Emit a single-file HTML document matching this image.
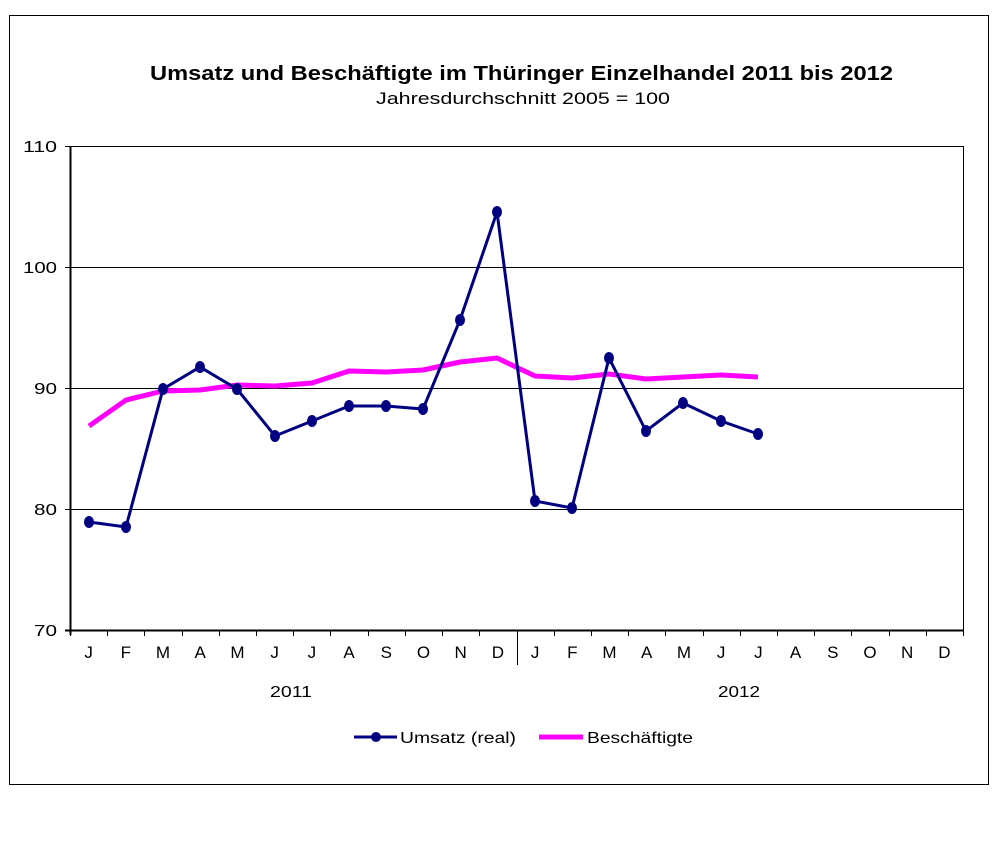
<!DOCTYPE html>
<html><head><meta charset="utf-8"><style>
body{margin:0;background:#fff;}
svg{display:block;font-family:"Liberation Sans",Arial,sans-serif;}
</style></head><body>
<svg width="1008" height="864" viewBox="0 0 1008 864">
<rect x="9.5" y="15.5" width="979" height="769" fill="#fff" stroke="#000" stroke-width="1"/>
<text x="150" y="80" font-size="20" font-weight="bold" textLength="743" lengthAdjust="spacingAndGlyphs">Umsatz und Beschäftigte im Thüringer Einzelhandel 2011 bis 2012</text>
<text x="376" y="104" font-size="17" textLength="294" lengthAdjust="spacingAndGlyphs">Jahresdurchschnitt 2005 = 100</text>
<g stroke="#000" stroke-width="1">
<line x1="70" y1="146.5" x2="963" y2="146.5"/>
<line x1="70" y1="267.5" x2="963" y2="267.5"/>
<line x1="70" y1="388.5" x2="963" y2="388.5"/>
<line x1="70" y1="509.5" x2="963" y2="509.5"/>
<line x1="963.5" y1="146" x2="963.5" y2="630"/>
<line x1="70.5" y1="146" x2="70.5" y2="635" stroke-width="2"/>
<line x1="65" y1="630.5" x2="963" y2="630.5" stroke-width="2"/>
<line x1="65" y1="146.5" x2="70" y2="146.5"/>
<line x1="65" y1="267.5" x2="70" y2="267.5"/>
<line x1="65" y1="388.5" x2="70" y2="388.5"/>
<line x1="65" y1="509.5" x2="70" y2="509.5"/>
<line x1="517.5" y1="630" x2="517.5" y2="665"/>
</g>
<g stroke="#000" stroke-width="1" id="ticks"></g>
<g font-size="16" lengthAdjust="spacingAndGlyphs">
<text x="23" y="152" textLength="34" lengthAdjust="spacingAndGlyphs">110</text>
<text x="23" y="273" textLength="34" lengthAdjust="spacingAndGlyphs">100</text>
<text x="34" y="394" textLength="23" lengthAdjust="spacingAndGlyphs">90</text>
<text x="34" y="515" textLength="23" lengthAdjust="spacingAndGlyphs">80</text>
<text x="34" y="636" textLength="23" lengthAdjust="spacingAndGlyphs">70</text>
</g>
<g font-size="17" text-anchor="middle" id="months"></g>
<text x="270" y="697" font-size="16" textLength="42" lengthAdjust="spacingAndGlyphs">2011</text>
<text x="718" y="697" font-size="16" textLength="42" lengthAdjust="spacingAndGlyphs">2012</text>
<polyline fill="none" stroke="#ff00ff" stroke-width="5" stroke-linejoin="round" points="89,426 126,400 163,391 200,390 237,385 275,386 312,383 349,371 386,372 423,370 460,362 497,358 535,376 572,378 609,374 646,379 683,377 721,375 758,377"/>
<polyline fill="none" stroke="#000080" stroke-width="3" points="89,522 126,527 163,389 200,367 237,389 275,436 312,421 349,406 386,406 423,409 460,320 497,212 535,501 572,508 609,358 646,431 683,403 721,421 758,434"/>
<g fill="#000080" id="dots"></g>
<line x1="354" y1="737" x2="397" y2="737" stroke="#000080" stroke-width="3"/>
<circle cx="376" cy="737" r="5" fill="#000080"/>
<text x="400" y="743" font-size="16" textLength="116" lengthAdjust="spacingAndGlyphs">Umsatz (real)</text>
<line x1="539" y1="737" x2="583" y2="737" stroke="#ff00ff" stroke-width="5"/>
<text x="587" y="743" font-size="16" textLength="106" lengthAdjust="spacingAndGlyphs">Beschäftigte</text>
<script>
var ns="http://www.w3.org/2000/svg",w=893/24;
var m="JFMAMJJASOND".split("");
var t=document.getElementById("ticks"),mo=document.getElementById("months");
for(var i=0;i<=24;i++){var x=Math.round(70+w*i)+0.5;var l=document.createElementNS(ns,"line");l.setAttribute("x1",x);l.setAttribute("x2",x);l.setAttribute("y1",630);l.setAttribute("y2",636);t.appendChild(l);}
for(var i=0;i<24;i++){var tx=document.createElementNS(ns,"text");tx.setAttribute("x",70+w*(i+0.5));tx.setAttribute("y",658);tx.textContent=m[i%12];mo.appendChild(tx);}
var pts=[[89,522],[126,527],[163,389],[200,367],[237,389],[275,436],[312,421],[349,406],[386,406],[423,409],[460,320],[497,212],[535,501],[572,508],[609,358],[646,431],[683,403],[721,421],[758,434]];
var d=document.getElementById("dots");
pts.forEach(function(p){var c=document.createElementNS(ns,"ellipse");c.setAttribute("cx",p[0]);c.setAttribute("cy",p[1]);c.setAttribute("rx",5);c.setAttribute("ry",6);d.appendChild(c);});
</script>
</svg>
</body></html>
